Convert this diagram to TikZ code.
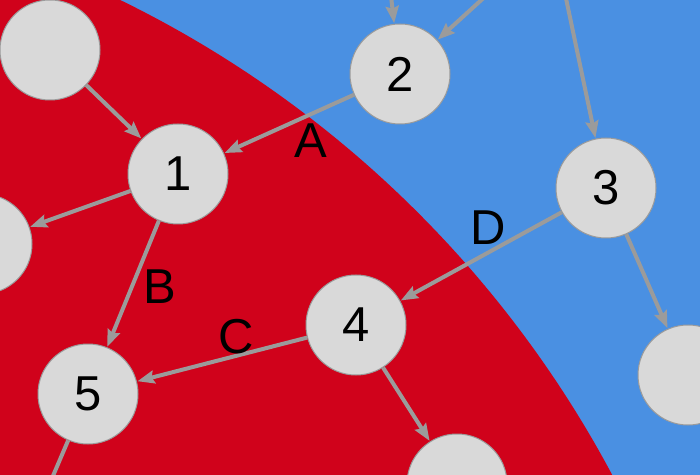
\documentclass[tikz,border=0pt]{standalone}
\usepackage{fontspec}
\setmainfont{Liberation Sans}
\usetikzlibrary{arrows.meta}
\definecolor{skyBlue}{HTML}{4A90E2}
\definecolor{zoneRed}{HTML}{D0021B}
\definecolor{nodeGray}{HTML}{D9D9D9}
\definecolor{edgeGray}{HTML}{9B9B9B}

\begin{document}
\begin{tikzpicture}[x=0.5pt, y=-0.5pt,
    vertex/.style={circle, draw=edgeGray, line width=0.5pt, fill=nodeGray, minimum size=50pt, inner sep=0pt, font=\fontsize{24.5}{28}\selectfont},
    link/.style={-{Stealth[length=8.5pt, width=6.5pt, inset=1.2pt]}, draw=edgeGray, line width=2pt, shorten >=0.3pt},
    tag/.style={font=\fontsize{24.5}{28}\selectfont}]
    \useasboundingbox (0,0) rectangle (700,475);
    \clip (0,0) rectangle (700,475);
    \fill[skyBlue] (0,0) rectangle (700,475);
    \fill[zoneRed] (-364,994) circle[radius=552.7pt];

    \node[vertex] (top) at (50,50) {};
    \node[vertex] (n1) at (178,174) {1};
    \node[vertex] (n2) at (400,74) {2};
    \node[vertex] (n3) at (606,188) {3};
    \node[vertex] (n4) at (356,325) {4};
    \node[vertex] (n5) at (88,394) {5};
    \node[vertex] (west) at (-18,244) {};
    \node[vertex] (east) at (688,375) {};
    \node[vertex] (south) at (457,484) {};

    \coordinate (up2) at (388,-30);
    \coordinate (ne2) at (522,-37);
    \coordinate (up3) at (560,-30);
    \coordinate (down5) at (29,532);

    \draw[link] (top) -- (n1);
    \draw[link] (n2) -- (n1);
    \draw[link] (n1) -- (west);
    \draw[link] (n1) -- (n5);
    \draw[link] (n4) -- (n5);
    \draw[link] (n3) -- (n4);
    \draw[link] (n3) -- (east);
    \draw[link] (n4) -- (south);
    \draw[link] (up2) -- (n2);
    \draw[link] (ne2) -- (n2);
    \draw[link] (up3) -- (n3);
    \draw[link] (n5) -- (down5);

    \node[tag] (lA) at (311,141) {A};
    \node[tag] (lB) at (160,287) {B};
    \node[tag] (lC) at (236,337) {C};
    \node[tag] (lD) at (488,228) {D};
\end{tikzpicture}
\end{document}
